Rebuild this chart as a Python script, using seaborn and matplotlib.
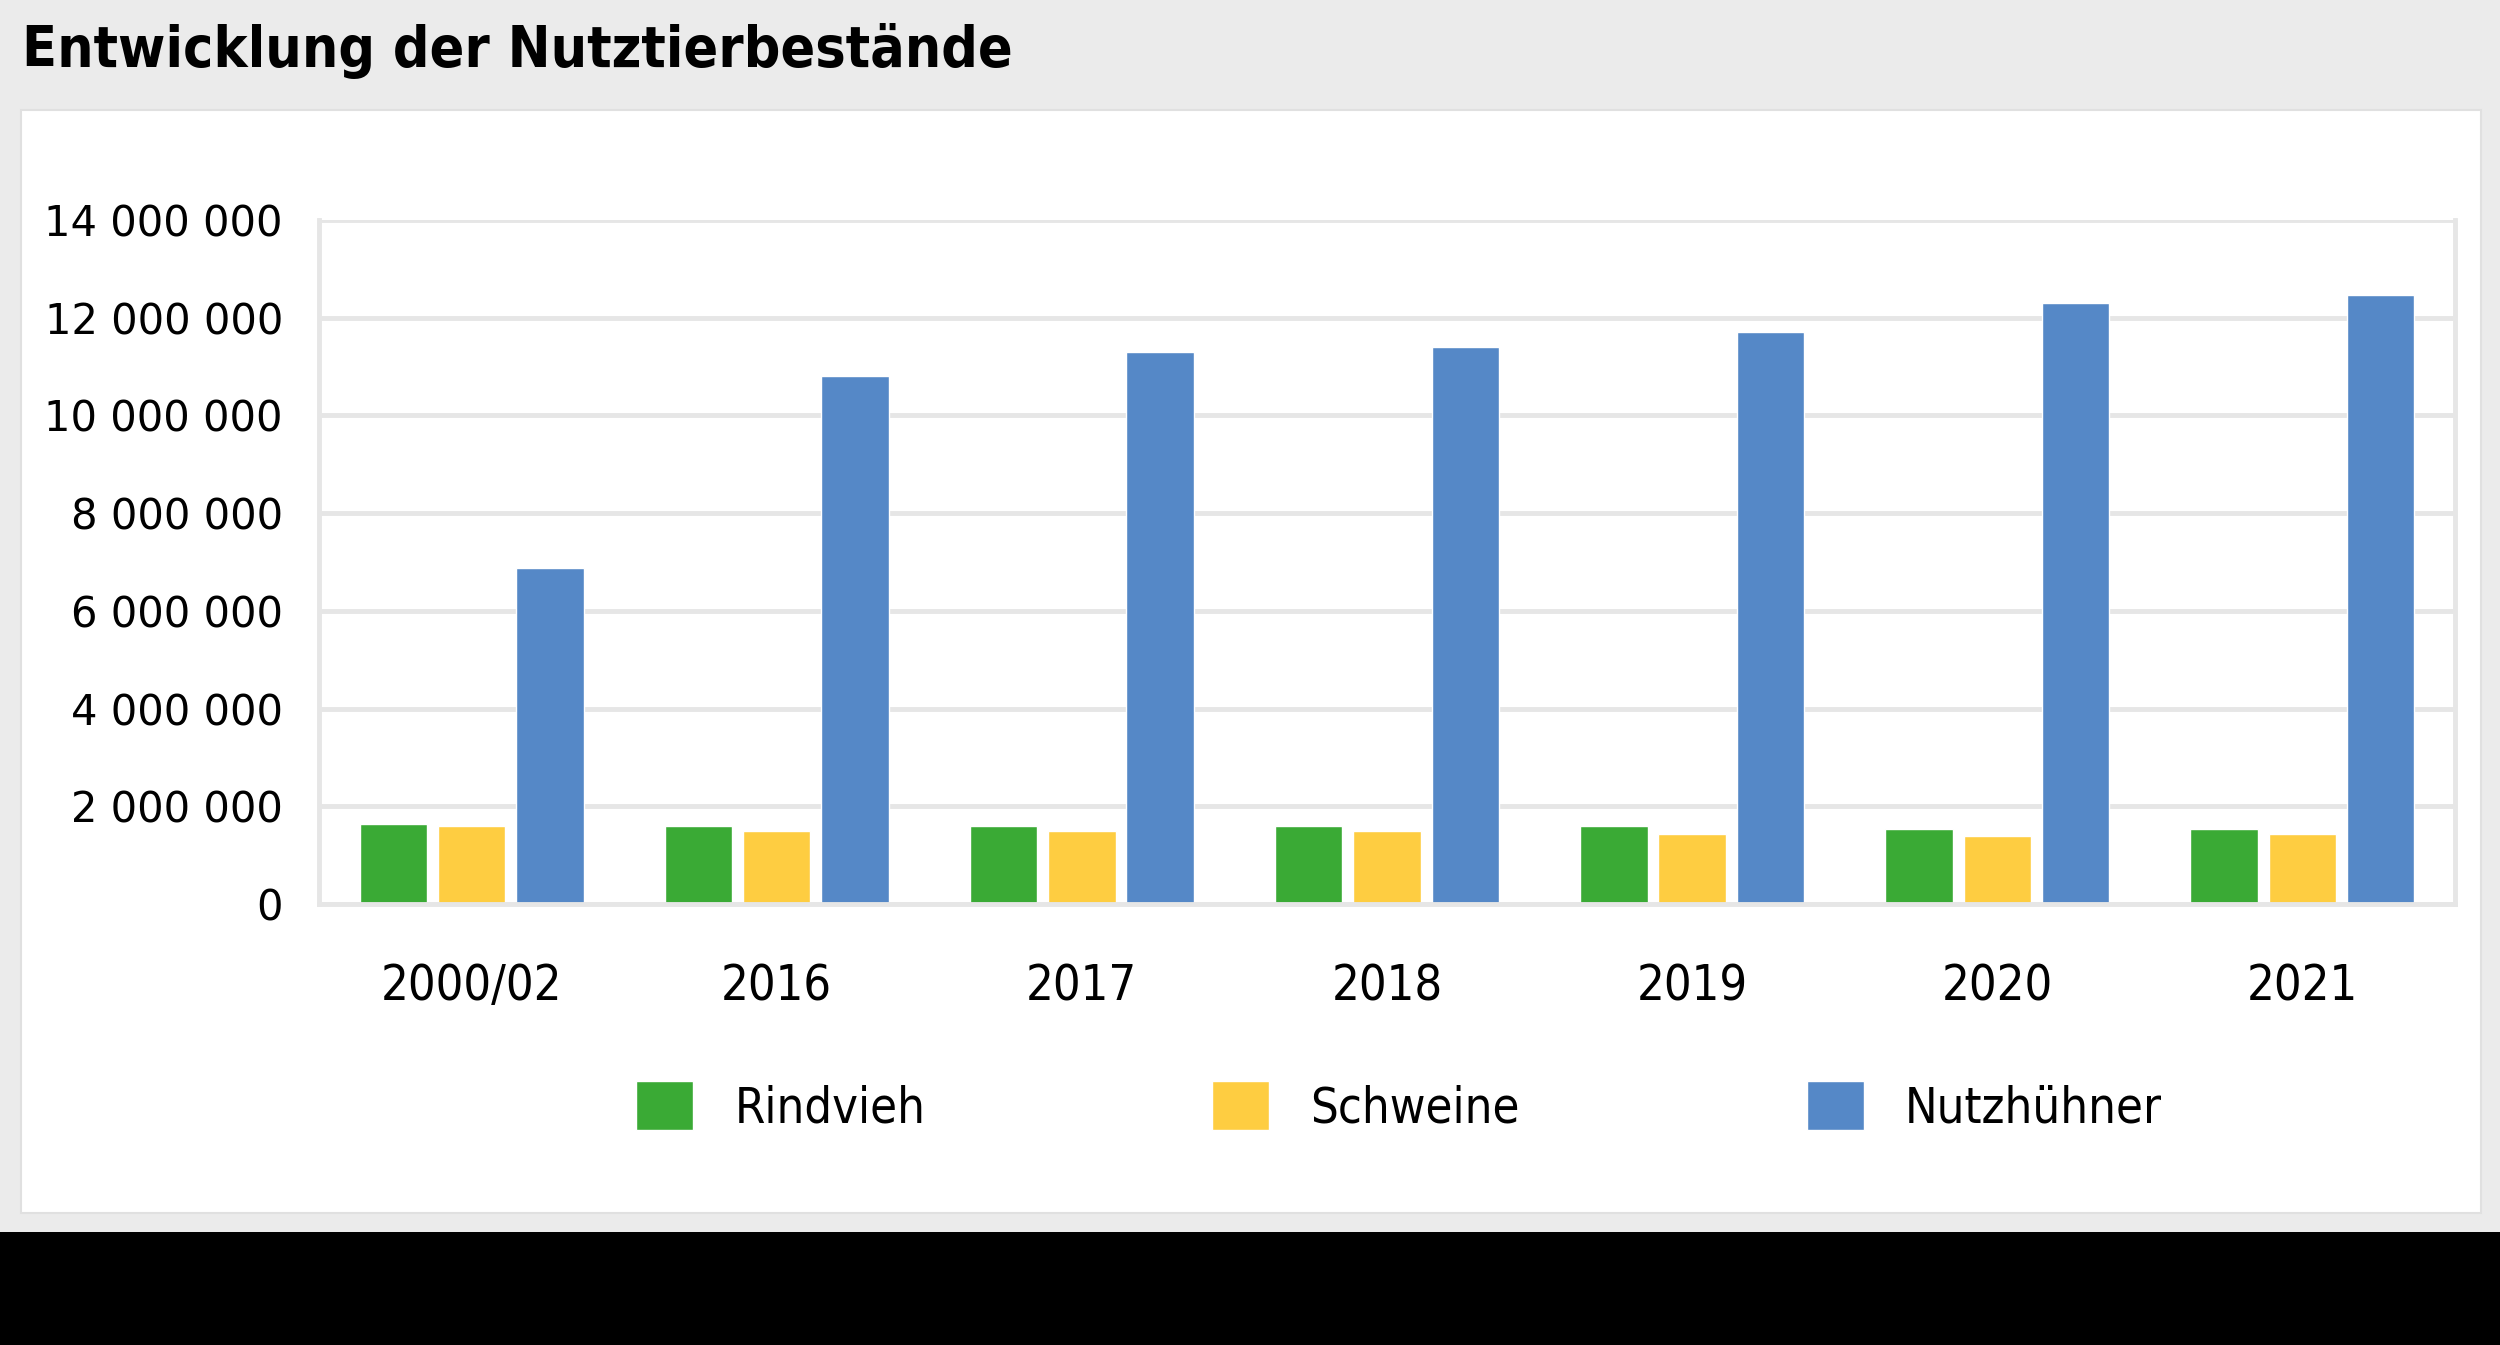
import pandas as pd
import matplotlib.pyplot as plt
import matplotlib.font_manager as fm
import seaborn as sns
from matplotlib.patches import Rectangle
from matplotlib.ticker import FixedLocator, FuncFormatter

# values
years = ["2000/02", "2016", "2017", "2018", "2019", "2020", "2021"]
rindvieh = [1630000, 1600000, 1600000, 1600000, 1600000, 1530000, 1530000]
schweine = [1600000, 1500000, 1500000, 1500000, 1440000, 1400000, 1440000]
nutzhuehner = [6880000, 10800000, 11290000, 11390000, 11710000, 12300000, 12460000]

series = ["Rindvieh", "Schweine", "Nutzhühner"]
colors = ["#3aaa35", "#fecd41", "#5588c7"]
grid_col = "#e6e6e6"


def find_narrow(bold):
    # look for any condensed / narrow face installed
    for f in fm.fontManager.ttflist:
        narrowish = ("Narrow" in f.name or "Condensed" in f.name
                     or f.stretch in ("condensed", "semi-condensed", 600, 500))
        is_bold = f.weight in ("bold", 700, "heavy", 800)
        if narrowish and is_bold == bold and f.style == "normal":
            return fm.FontProperties(fname=f.fname)
    return fm.FontProperties(family="DejaVu Sans", weight="bold" if bold else "normal")


narrow_reg = find_narrow(False)
narrow_bold = find_narrow(True)

df = pd.DataFrame({
    "Jahr": years * 3,
    "Tier": [s for s in series for _ in years],
    "Bestand": rindvieh + schweine + nutzhuehner,
})

sns.set_style("white")
plt.rcParams["font.family"] = ["DejaVu Sans"]

fig = plt.figure(figsize=(25, 13.45), dpi=100)
fig.patch.set_facecolor("#ebebeb")
fig.patches.append(Rectangle((0.0084, 0.0981), 0.984, 0.820, transform=fig.transFigure,
                             facecolor="white", edgecolor="#e0e0e0", lw=1.5, zorder=-2))
fig.patches.append(Rectangle((0, 0), 1, 0.084, transform=fig.transFigure,
                             facecolor="black", edgecolor="none", zorder=-2))

title_fp = narrow_bold.copy()
title_fp.set_size(41)
fig.text(0.0088, 0.962, "Entwicklung der Nutztierbestände", fontproperties=title_fp,
         va="center", ha="left", color="black")

ax = fig.add_axes([0.1276, 0.3279, 0.8544, 0.5086])
sns.barplot(data=df, x="Jahr", y="Bestand", hue="Tier", hue_order=series,
            palette=colors, width=0.77, gap=0.14, saturation=1, ax=ax)

handles, labels = ax.get_legend_handles_labels()
if ax.get_legend() is not None:
    ax.get_legend().remove()

ax.set_ylim(0, 14000000)
ax.set_yticks(range(0, 14000001, 2000000))
ax.yaxis.set_major_formatter(FuncFormatter(lambda v, p: f"{int(v):,}".replace(",", " ")))
ax.set_xlabel("")
ax.set_ylabel("")
ax.set_facecolor("white")

ax.yaxis.grid(True, color=grid_col, lw=3.5)
ax.set_axisbelow(True)
for side in ["left", "right", "bottom"]:
    ax.spines[side].set_color(grid_col)
    ax.spines[side].set_linewidth(3.5)
ax.spines["top"].set_visible(False)

ax.tick_params(axis="y", length=0, pad=26, labelsize=30, labelcolor="black")
ax.tick_params(axis="x", which="major", length=0, pad=42, labelcolor="black")
ax.xaxis.set_minor_locator(FixedLocator([i - 0.5 for i in range(len(years) + 1)]))
ax.tick_params(axis="x", which="minor", length=13, width=3, color=grid_col)
label_fp = narrow_reg.copy()
label_fp.set_size(35)
for lab in ax.get_xticklabels():
    lab.set_fontproperties(label_fp)

fig.legend(handles, labels, loc="center", bbox_to_anchor=(0.5596, 0.177), ncol=3,
           frameon=False, prop=label_fp, labelcolor="black",
           handlelength=1.17, handleheight=1.17, handletextpad=0.85, columnspacing=5.9)

fig.savefig("out.png", dpi=100, facecolor=fig.get_facecolor())
plt.close(fig)
